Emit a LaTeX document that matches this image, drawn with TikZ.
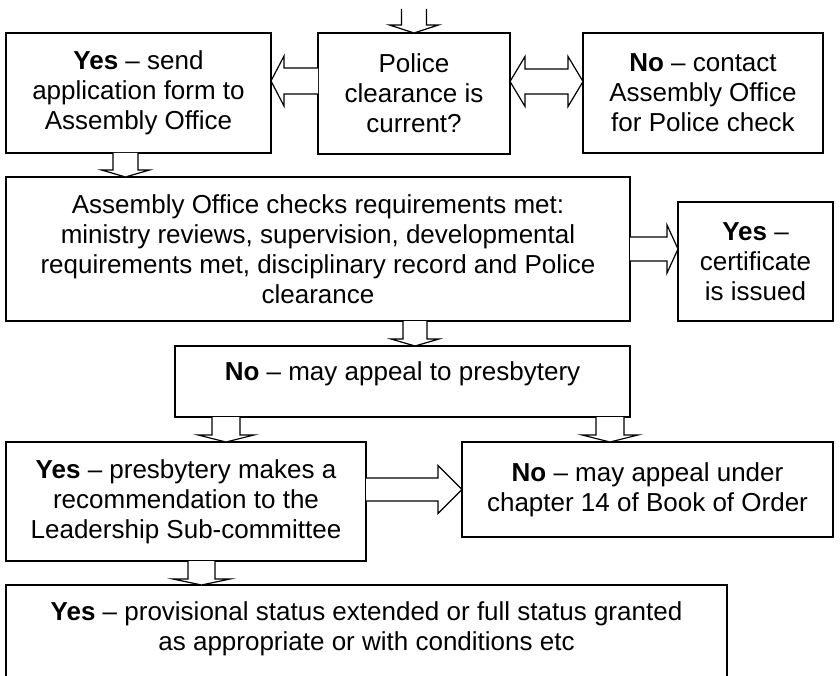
\documentclass[tikz,border=0pt]{standalone}
\usepackage{fontspec}
\setmainfont{Liberation Sans}
\usetikzlibrary{calc}
\tikzset{
  box/.style={draw, line width=1.5pt, inner sep=0pt, outer sep=0pt, align=center, anchor=north west, font=\fontsize{26}{30}\selectfont},
  txt/.style={inner sep=0pt, align=center, font=\fontsize{26}{30}\selectfont},
  blockarrow/.style={draw, fill=white, line width=1.2pt, line join=miter},
}
% #1 start, #2 angle, #3 length, #4 shaft half width, #5 head half width, #6 head length
\newcommand\barrow[6]{\path[blockarrow, shift={#1}, rotate=#2] (0,-#4) -- (#3-#6,-#4) -- (#3-#6,-#5) -- (#3,0) -- (#3-#6,#5) -- (#3-#6,#4) -- (0,#4);}
% #1 start, #2 length, #3 shaft half, #4 head half, #5 head length
\newcommand\dbarrow[5]{\path[blockarrow, shift={#1}] (0,0) -- (#5,-#4) -- (#5,-#3) -- (#2-#5,-#3) -- (#2-#5,-#4) -- (#2,0) -- (#2-#5,#4) -- (#2-#5,#3) -- (#5,#3) -- (#5,#4) -- cycle;}
\begin{document}
\begin{tikzpicture}[x=1pt,y=-1pt]
\useasboundingbox (0,0) rectangle (840,676);
\clip (0,0) rectangle (840,676);
% boxes
\node[box, minimum width=265pt, minimum height=120pt] (send) at (6,33) {\textbf{Yes} -- send\\application form to\\Assembly Office};
\node[box, minimum width=192pt, minimum height=121pt] (pol) at (318,33) {Police\\clearance is\\current?};
\node[box, minimum width=240pt, minimum height=120pt] (nocon) at (583,33) {\textbf{No} -- contact\\Assembly Office\\for Police check};
\node[box, minimum width=624pt, minimum height=144pt] (asm) at (6,177) {Assembly Office checks requirements met:\\ministry reviews, supervision, developmental\\requirements met, disciplinary record and Police\\clearance};
\node[box, minimum width=155pt, minimum height=119pt] (cert) at (678,202) {\textbf{Yes} --\\certificate\\is issued};
\node[box, minimum width=455pt, minimum height=71pt] (nopres) at (175,346) {};
\node[txt, anchor=base] (nopresT) at ($(nopres.north)+(0,34)$) {\textbf{No} -- may appeal to presbytery};
\node[box, minimum width=360pt, minimum height=119pt] (yespres) at (6,442) {\textbf{Yes} -- presbytery makes a\\recommendation to the\\Leadership Sub-committee};
\node[box, minimum width=371pt, minimum height=95pt] (noch) at (462,442) {\textbf{No} -- may appeal under\\chapter 14 of Book of Order};
\node[box, minimum width=721pt, minimum height=115pt] (final) at (6,585) {};
\node[txt, anchor=north] (finalT) at ($(final.north)+(0,16)$) {\textbf{Yes} -- provisional status extended or full status granted\\as appropriate or with conditions etc};
% block arrows
\barrow{($(pol.north)+(0,-24)$)}{-90}{24}{12.5}{24.5}{8}
\barrow{($(pol.west)+(0,-12.5)$)}{180}{47}{13}{25}{13}
\dbarrow{($(pol.east)+(0,-12)$)}{73}{12.5}{25}{15}
\barrow{($(send.south)+(-13,0)$)}{-90}{24}{12.5}{24}{7}
\barrow{($(asm.south west)+(409,0)$)}{-90}{25}{12}{24}{7}
\barrow{(asm.east)}{0}{48}{12}{24}{11}
\barrow{($(nopres.south west)+(51,0)$)}{-90}{25}{14}{28}{7}
\barrow{($(nopres.south west)+(435,0)$)}{-90}{25}{14}{28}{7}
\barrow{($(yespres.east)+(0,-12)$)}{0}{96}{11.5}{24}{24}
\barrow{($(yespres.south west)+(195.5,0)$)}{-90}{24}{13.5}{28.5}{6}
\end{tikzpicture}
\end{document}
